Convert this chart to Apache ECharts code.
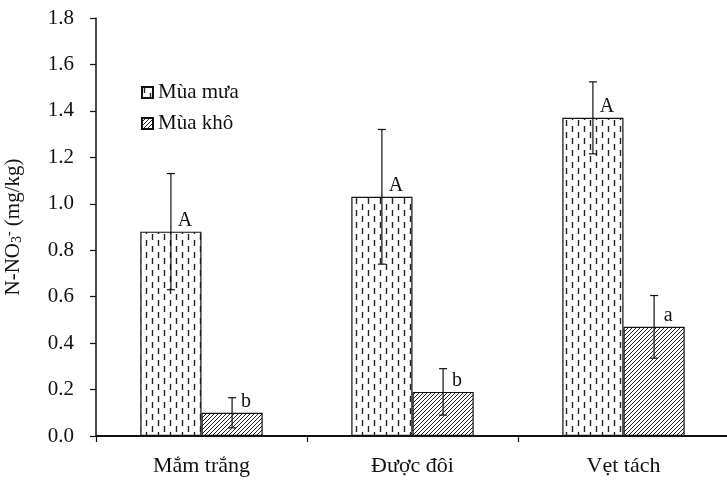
<!DOCTYPE html>
<html>
<head>
<meta charset="utf-8">
<script src="https://cdn.jsdelivr.net/npm/echarts@6/dist/echarts.min.js"></script>
<style>
  html, body { margin: 0; padding: 0; background: #fff; }
  #chart { width: 727px; height: 483px; }
</style>
</head>
<body>
<div id="chart"></div>
<script>
// Nitrate content by site and season
const categories = ['Mắm trắng', 'Được đôi', 'Vẹt tách'];
const seriesNames = ['Mùa mưa', 'Mùa khô'];
const rainyValues = [0.88, 1.03, 1.37];
const rainyErrors = [0.25, 0.29, 0.155];
const rainyLetters = ['A', 'A', 'A'];
const dryValues = [0.10, 0.19, 0.47];
const dryErrors = [0.065, 0.10, 0.135];
const dryLetters = ['b', 'b', 'a'];
const yTicks = [0, 0.2, 0.4, 0.6, 0.8, 1.0, 1.2, 1.4, 1.6, 1.8];

const FONT = '"Liberation Serif", "Times New Roman", serif';
const CATEGORY_GAP = 0.42;

// Vertical staggered dashes on white
function dashPattern() {
  const c = document.createElement('canvas');
  c.width = 12; c.height = 12;
  const g = c.getContext('2d');
  g.fillStyle = '#fff';
  g.fillRect(0, 0, 12, 12);
  g.strokeStyle = '#222';
  g.lineWidth = 1.4;
  g.beginPath();
  g.moveTo(2.5, 0); g.lineTo(2.5, 6);
  g.moveTo(8.5, 6); g.lineTo(8.5, 12);
  g.stroke();
  return { image: c, repeat: 'repeat' };
}

// Diagonal hatching on white
function hatchPattern() {
  const s = 4;
  const c = document.createElement('canvas');
  c.width = s; c.height = s;
  const g = c.getContext('2d');
  g.fillStyle = '#fff';
  g.fillRect(0, 0, s, s);
  g.strokeStyle = '#222';
  g.lineWidth = 1;
  g.beginPath();
  g.moveTo(-1, s + 1); g.lineTo(s + 1, -1);
  g.moveTo(-1, 1); g.lineTo(1, -1);
  g.moveTo(s - 1, s + 1); g.lineTo(s + 1, s - 1);
  g.stroke();
  return { image: c, repeat: 'repeat' };
}

function errorSeries(values, errors, side) {
  return {
    type: 'custom',
    silent: true,
    z: 5,
    data: values.map((v, i) => [i, v, errors[i]]),
    renderItem: function (params, api) {
      const idx = api.value(0);
      const v = api.value(1);
      const e = api.value(2);
      const band = api.size([1, 0])[0];
      const bw = band * (1 - CATEGORY_GAP) / 2;
      const top = api.coord([idx, v + e]);
      const bot = api.coord([idx, v - e]);
      const x = top[0] + side * bw / 2;
      const cap = 4;
      const style = { stroke: '#111', lineWidth: 1.2 };
      return {
        type: 'group',
        children: [
          { type: 'line', shape: { x1: x, y1: top[1], x2: x, y2: bot[1] }, style: style },
          { type: 'line', shape: { x1: x - cap, y1: top[1], x2: x + cap, y2: top[1] }, style: style },
          { type: 'line', shape: { x1: x - cap, y1: bot[1], x2: x + cap, y2: bot[1] }, style: style }
        ]
      };
    }
  };
}

function barSeries(name, values, letters, pattern) {
  return {
    name: name,
    type: 'bar',
    barGap: '0%',
    barCategoryGap: (CATEGORY_GAP * 100) + '%',
    data: values,
    itemStyle: { color: pattern, borderColor: '#111', borderWidth: 1.2 },
    emphasis: { disabled: true },
    label: {
      show: true,
      position: 'top',
      distance: 1,
      offset: [14, 0],
      formatter: p => letters[p.dataIndex],
      fontFamily: FONT,
      fontSize: 20,
      color: '#111'
    }
  };
}

const chart = echarts.init(document.getElementById('chart'), null, { renderer: 'canvas' });
chart.setOption({
  animation: false,
  backgroundColor: '#fff',
  grid: { left: 96, right: -2, top: 18, bottom: 47, containLabel: false, outerBoundsMode: 'none' },
  legend: {
    orient: 'vertical',
    left: 136,
    top: 77,
    itemWidth: 11,
    itemHeight: 11,
    itemGap: 10,
    icon: 'rect',
    data: seriesNames,
    textStyle: { fontFamily: FONT, fontSize: 21, color: '#111' },
    selectedMode: false
  },
  xAxis: {
    type: 'category',
    data: categories,
    axisLine: { lineStyle: { color: '#111', width: 2 } },
    axisTick: { show: true, length: 6, lineStyle: { color: '#111', width: 1.2 } },
    axisLabel: { margin: 19, fontFamily: FONT, fontSize: 22, color: '#111' },
    splitLine: { show: false }
  },
  yAxis: {
    type: 'value',
    min: yTicks[0],
    max: yTicks[yTicks.length - 1],
    interval: 0.2,
    name: '{t|N-NO}{sub|3}{sup|-}{t| (mg/kg)}',
    nameLocation: 'middle',
    nameGap: 72,
    nameRotate: 90,
    nameTextStyle: {
      fontFamily: FONT,
      fontSize: 21,
      color: '#111',
      rich: {
        t: { fontFamily: FONT, fontSize: 21, color: '#111' },
        sub: { fontFamily: FONT, fontSize: 14, color: '#111', verticalAlign: 'bottom', padding: [6, 0, 0, 0] },
        sup: { fontFamily: FONT, fontSize: 14, color: '#111', verticalAlign: 'top', padding: [0, 0, 8, 0] }
      }
    },
    axisLine: { show: true, lineStyle: { color: '#111', width: 1.5 } },
    axisTick: { show: true, length: 6, lineStyle: { color: '#111', width: 1.2 } },
    axisLabel: {
      margin: 22,
      fontFamily: FONT,
      fontSize: 21,
      color: '#111',
      formatter: v => v.toFixed(1)
    },
    splitLine: { show: false }
  },
  series: [
    barSeries(seriesNames[0], rainyValues, rainyLetters, dashPattern()),
    barSeries(seriesNames[1], dryValues, dryLetters, hatchPattern()),
    errorSeries(rainyValues, rainyErrors, -1),
    errorSeries(dryValues, dryErrors, 1)
  ]
});
</script>
</body>
</html>
